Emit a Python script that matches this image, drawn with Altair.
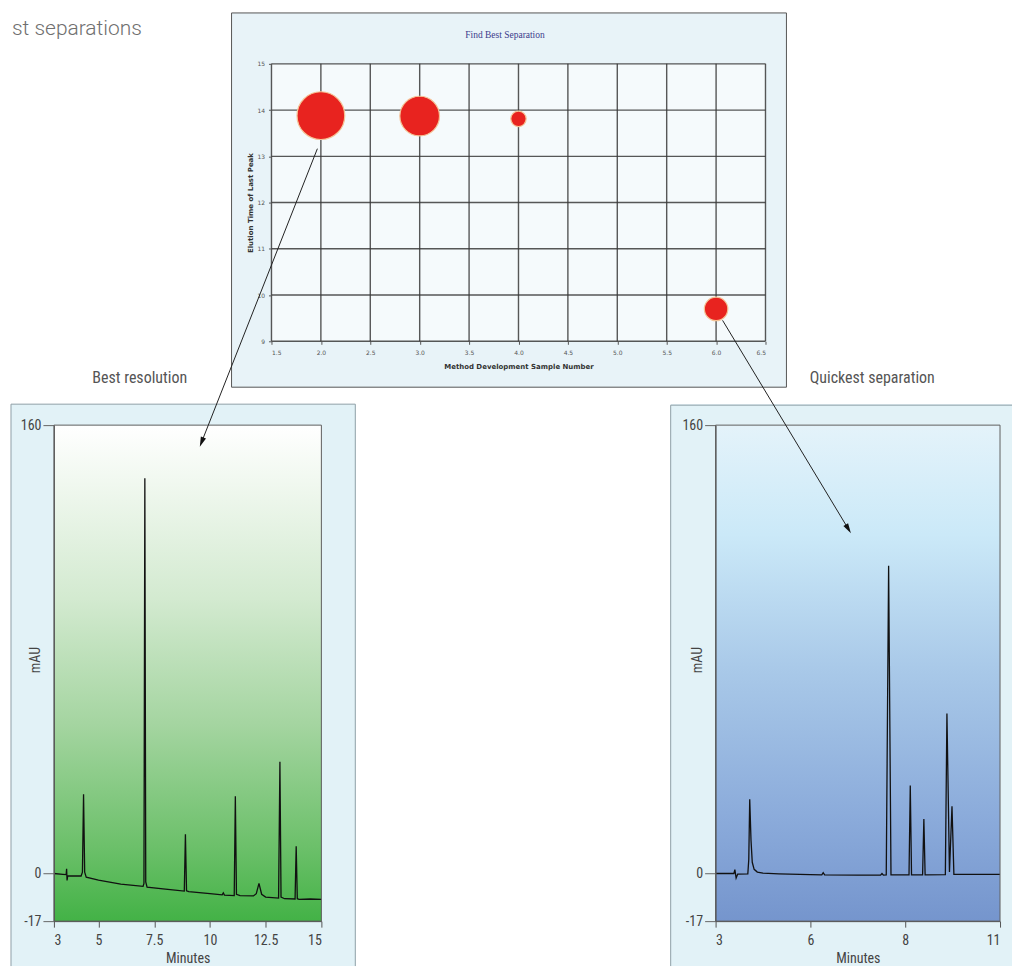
# Method development figure: bubble chart of runs + two chromatograms (Altair)
import altair as alt
import pandas as pd

# ------------------------------------------------------------
# 1) Values
# ------------------------------------------------------------
# bubble chart: one bubble per method development run
sample_number = [2.0, 3.0, 4.0, 6.0]
last_peak_time = [13.88, 13.87, 13.81, 9.70]
resolution = [2.9, 2.0, 0.3, 0.7]          # bubble area

sample_ticks = [1.5, 2.0, 2.5, 3.0, 3.5, 4.0, 4.5, 5.0, 5.5, 6.0, 6.5]
time_ticks = [9, 10, 11, 12, 13, 14, 15]

# chromatogram of the best resolution run
best_minutes = [3.00, 3.40, 3.55, 3.57, 3.59, 3.62, 4.22, 4.28, 4.33, 4.38, 4.45, 5.00,
                6.00, 7.00, 7.04, 7.08, 7.12, 7.18, 8.00, 8.85, 8.90, 8.95, 9.05, 10.00,
                10.55, 10.60, 10.65, 11.09, 11.14, 11.19, 11.35, 11.95, 12.08, 12.20,
                12.32, 12.50, 13.08, 13.14, 13.19, 13.35, 13.82, 13.87, 13.92, 14.00,
                14.50, 15.00]
best_mau = [0.0, -0.3, -0.4, 1.7, -2.5, -0.8, -0.9, 0.5, 28.3, 0.5, -1.3, -2.4,
            -3.8, -4.6, -3.5, 141.0, -3.0, -4.9, -5.6, -6.3, 14.0, -6.2, -6.5, -7.2,
            -7.6, -6.9, -7.7, -7.9, 27.6, -7.4, -7.9, -8.0, -7.2, -3.5,
            -7.4, -8.4, -8.8, 39.9, -8.4, -9.0, -9.1, 9.7, -9.0, -9.2,
            -9.1, -9.2]
best_ticks = [3, 5, 7.5, 10, 12.5, 15]

# chromatogram of the quickest run
quick_minutes = [3.00, 3.58, 3.61, 3.65, 3.70, 4.02, 4.05, 4.08, 4.12, 4.16, 4.22, 4.32,
                 4.50, 5.00, 6.00, 6.24, 6.27, 6.30, 7.00, 7.48, 7.51, 7.54, 7.60, 7.65,
                 7.70, 8.12, 8.16, 8.20, 8.55, 8.59, 8.63, 9.27, 9.32, 9.40, 9.48, 9.54,
                 10.00, 11.00]
quick_mau = [0.0, 0.0, 1.4, -1.6, -0.2, -0.1, 5.0, 26.5, 12.0, 4.0, 1.5, 0.5,
             0.1, -0.1, -0.4, -0.5, 0.3, -0.5, -0.6, -0.6, 0.0, -0.6, -0.5, 109.8,
             -0.5, -0.5, 31.4, -0.5, -0.5, 19.4, -0.5, -0.4, 57.1, 0.5, 24.0, -0.3,
             -0.3, -0.3]
quick_ticks = [3, 6, 8, 11]

mau_ticks = [-17, 0, 160]

# ------------------------------------------------------------
# 2) Sizes, fonts, colours
# ------------------------------------------------------------
TOP_W, TOP_H = 495, 278
BEST_W, QUICK_W, CH_H = 268, 285, 497

NARROW = "Liberation Sans Narrow, Roboto Condensed, Arial Narrow, Roboto, sans-serif"
SMALL = "DejaVu Sans, sans-serif"
ARROW_HEAD = "M0,-1L0.55,1L-0.55,1Z"

one = pd.DataFrame({"k": [0]})   # single row for decorations


# ------------------------------------------------------------
# 3) Top: "Find Best Separation" bubble chart
# ------------------------------------------------------------
bubbles = pd.DataFrame({"sample": sample_number, "last_peak": last_peak_time,
                        "resolution": resolution})
x_top = alt.Scale(domain=[1.5, 6.5], nice=False, zero=False)
y_top = alt.Scale(domain=[9, 15], nice=False, zero=False)

x_top_axis = alt.Axis(values=sample_ticks, format=".1f", grid=False, domain=False,
                      title="Method Development Sample Number", tickSize=3,
                      tickColor="#555", labelFont=SMALL, labelFontSize=6,
                      labelColor="#555", labelPadding=5, titleFont=SMALL,
                      titleFontSize=7, titleFontWeight="bold", titleColor="#333",
                      titlePadding=7, zindex=1)
y_top_axis = alt.Axis(values=time_ticks, format="d", grid=False, domain=False,
                      title="Elution Time of Last Peak", tickSize=3,
                      tickColor="#555", labelFont=SMALL, labelFontSize=6,
                      labelColor="#555", labelPadding=4, titleFont=SMALL,
                      titleFontSize=7, titleFontWeight="bold", titleColor="#333",
                      titlePadding=3, zindex=1)

top_panel = alt.Chart(one).mark_rect(fill="#E8F3F8", stroke="#555555", strokeWidth=1).encode(
    x=alt.value(-40), x2=alt.value(516), y=alt.value(-51), y2=alt.value(324))

top_plot_bg = alt.Chart(one).mark_rect(fill="#F5FAFC").encode(
    x=alt.XDatum(1.5, scale=x_top, axis=x_top_axis), x2=alt.datum(6.5),
    y=alt.YDatum(9, scale=y_top, axis=y_top_axis), y2=alt.datum(15))

vgrid = alt.Chart(pd.DataFrame({"sample": sample_ticks})).mark_rule(
    color="#3a3a3a", strokeWidth=1.4, opacity=0.85).encode(
    x=alt.X("sample:Q", scale=x_top, axis=x_top_axis))
hgrid = alt.Chart(pd.DataFrame({"last_peak": time_ticks})).mark_rule(
    color="#3a3a3a", strokeWidth=1.4, opacity=0.85).encode(
    y=alt.Y("last_peak:Q", scale=y_top, axis=y_top_axis))

dots = alt.Chart(bubbles).mark_circle(color="#E8231F", opacity=1, stroke="#F5C396",
                                      strokeWidth=1.2).encode(
    x=alt.X("sample:Q", scale=x_top, axis=x_top_axis),
    y=alt.Y("last_peak:Q", scale=y_top, axis=y_top_axis),
    size=alt.Size("resolution:Q", scale=alt.Scale(domain=[0, 2.9], range=[0, 2290]),
                  legend=None),
)

top_title = alt.Chart(one).mark_text(
    text="Find Best Separation", font="Liberation Serif", fontSize=9.5, color="#3c3c8c"
).encode(x=alt.value(234), y=alt.value(-29))

page_heading = alt.Chart(one).mark_text(
    text="st separations", align="left", baseline="middle", font="Roboto",
    fontWeight=300, fontSize=21, color="#6f6f6f"
).encode(x=alt.value(-260), y=alt.value(-35))

top = alt.layer(top_panel, top_plot_bg, vgrid, hgrid, dots, top_title,
                page_heading).properties(width=TOP_W, height=TOP_H)


# ------------------------------------------------------------
# 4) Bottom: the two chromatograms
# ------------------------------------------------------------
def chromatogram(minutes, mau, x_scale, x_ticks, x_lo, x_hi, width, stops,
                 caption, caption_x, panel_x, borders, arrow):
    df = pd.DataFrame({"minutes": minutes, "mau": mau})
    y_scale = alt.Scale(domain=[-17, 160], nice=False, zero=False)
    x_axis = alt.Axis(values=x_ticks, labelExpr="'' + datum.value", title="Minutes",
                      grid=False, domainColor="#555", tickColor="#555", tickSize=6,
                      labelFont=NARROW, labelFontSize=14, labelColor="#444",
                      labelPadding=6, titleFont=NARROW, titleFontSize=14,
                      titleFontWeight="normal", titleColor="#444",
                      titlePadding=4, zindex=1)
    y_axis = alt.Axis(values=mau_ticks, labelExpr="'' + datum.value", title="mAU",
                      grid=False, domainColor="#555", tickColor="#666", tickSize=11,
                      labelFont=NARROW, labelFontSize=14, labelColor="#444",
                      labelPadding=2, titleFont=NARROW, titleFontSize=14,
                      titleFontWeight="normal", titleColor="#444",
                      titleX=-18, titleY=235, titleBaseline="middle", zindex=1)

    panel = alt.Chart(one).mark_rect(fill="#E2F2F7").encode(
        x=alt.value(panel_x[0]), x2=alt.value(panel_x[1]),
        y=alt.value(-21), y2=alt.value(542))
    edges = [
        alt.Chart(one).mark_rule(color="#8FA0A7", strokeWidth=1).encode(
            x=alt.value(a), x2=alt.value(b), y=alt.value(c), y2=alt.value(d))
        for a, b, c, d in borders
    ]
    fill = alt.Chart(one).mark_rect(
        fill=alt.Gradient(gradient="linear", x1=0, x2=0, y1=0, y2=1,
                          stops=[alt.GradientStop(offset=o, color=c) for o, c in stops])
    ).encode(x=alt.XDatum(x_lo, scale=x_scale, axis=x_axis), x2=alt.datum(x_hi),
             y=alt.YDatum(160, scale=y_scale, axis=y_axis), y2=alt.datum(-17))
    frame = alt.Chart(one).mark_rect(fillOpacity=0, stroke="#5f5f5f", strokeWidth=1).encode(
        x=alt.XDatum(x_lo, scale=x_scale, axis=x_axis), x2=alt.datum(x_hi),
        y=alt.YDatum(160, scale=y_scale, axis=y_axis), y2=alt.datum(-17))

    trace = alt.Chart(df).mark_line(color="#111111", strokeWidth=1.3).encode(
        x=alt.X("minutes:Q", scale=x_scale, axis=x_axis),
        y=alt.Y("mau:Q", scale=y_scale, axis=y_axis),
    )

    label = alt.Chart(one).mark_text(
        text=caption, font=NARROW, fontSize=16, color="#555555"
    ).encode(x=alt.value(caption_x), y=alt.value(-47))

    (x0, y0), (x1, y1), angle = arrow
    shaft = alt.Chart(one).mark_rule(color="#222222", strokeWidth=1).encode(
        x=alt.value(x0), y=alt.value(y0), x2=alt.value(x1), y2=alt.value(y1))
    head = alt.Chart(one).mark_point(shape=ARROW_HEAD, filled=True, size=100, angle=angle,
                                     color="#111111", opacity=1).encode(
        x=alt.value(x1), y=alt.value(y1))

    return alt.layer(panel, *edges, fill, trace, frame, label, shaft, head).properties(
        width=width, height=CH_H)


best = chromatogram(
    best_minutes, best_mau,
    alt.Scale(domain=[3, 15], nice=False, zero=False), best_ticks, 3, 15, BEST_W,
    [(0, "#FFFFFF"), (0.35, "#D3EAD0"), (0.6, "#A5D5A1"), (0.85, "#6CC06A"), (1, "#43B246")],
    "Best resolution", 86, (-43, 302),
    [(-43, 302, -21, -21), (-43, -43, -21, 542), (302, 302, -21, 542)],
    ((264, -277), (148, 17), 201.2),
)

quick = chromatogram(
    quick_minutes, quick_mau,
    alt.Scale(domain=[3, 6, 8, 11], range=[0, 95, 190, 285], nice=False, zero=False),
    quick_ticks, 3, 11, QUICK_W,
    [(0, "#E4F3FA"), (0.22, "#CBE9F8"), (0.5, "#A8C8E8"), (0.8, "#8AAADA"), (1, "#7595CD")],
    "Quickest separation", 157, (-45, 297),
    [(-45, 297, -20, -20), (-45, -45, -20, 542)],
    ((7, -105), (133, 104), 148.8),
)


def spacer(w, h):
    return alt.Chart(one).mark_point(opacity=0).encode(
        x=alt.value(0), y=alt.value(0)).properties(width=w, height=h)


# ------------------------------------------------------------
# 5) Layout: grid of view boxes (flush bounds) so each panel lands in place
# ------------------------------------------------------------
chart = alt.concat(
    spacer(1, TOP_H), top, spacer(1, TOP_H),
    best, spacer(1, 1), quick,
    columns=3,
    spacing={"row": 84, "column": -50},
    bounds="flush",
    align="none",
).properties(
    padding={"left": 2, "top": 3, "right": 0, "bottom": 0},
    autosize=alt.AutoSizeParams(type="pad"),
    background="white",
).configure_view(strokeWidth=0)

chart.save("out.html", embed_options={"renderer": "svg", "actions": False})
